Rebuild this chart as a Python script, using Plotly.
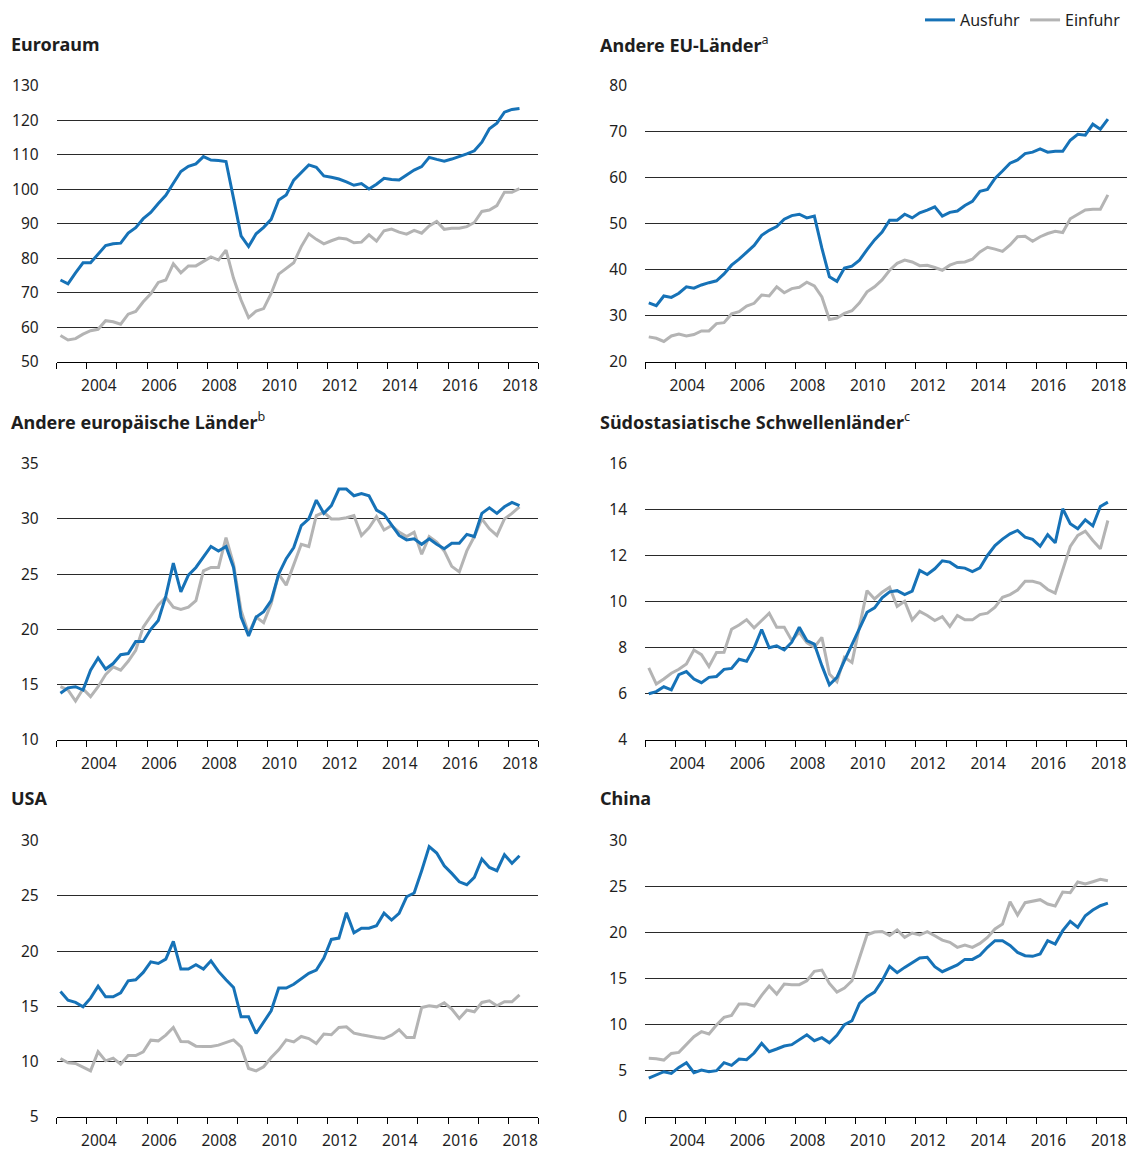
import plotly.graph_objects as go

# Quarterly data, 2003 Q1 - 2018 Q2
years = list(range(2003, 2019))
quarters = [(y, q) for y in years for q in (1, 2, 3, 4)][:62]
x_pos = [y + (q - 0.5) / 4 for y, q in quarters]

euro_aus = [73.7, 72.6, 75.8, 78.7, 78.7, 81.3, 83.7, 84.2, 84.4, 87.3,
            88.9, 91.5, 93.3, 95.9, 98.3, 101.8, 105.2, 106.7, 107.4, 109.5,
            108.5, 108.4, 108.1, 97.4, 86.5, 83.4, 87.1, 89.0, 91.3, 96.9,
            98.4, 102.7, 105.0, 107.1, 106.4, 103.9, 103.5, 103.0, 102.2, 101.2,
            101.7, 100.1, 101.5, 103.2, 102.9, 102.7, 104.2, 105.6, 106.6, 109.3,
            108.7, 108.2, 108.8, 109.5, 110.3, 111.2, 113.7, 117.6, 119.2, 122.4,
            123.2, 123.5]
euro_ein = [57.6, 56.3, 56.7, 58.0, 59.0, 59.4, 61.9, 61.6, 60.9, 63.8,
            64.6, 67.4, 69.7, 73.0, 73.7, 78.4, 75.8, 77.8, 77.8, 79.2,
            80.4, 79.5, 82.4, 74.2, 67.9, 62.8, 64.7, 65.4, 69.8, 75.4,
            77.1, 78.7, 83.4, 87.1, 85.5, 84.2, 85.1, 85.9, 85.6, 84.5,
            84.7, 86.8, 85.0, 88.0, 88.5, 87.6, 87.0, 88.1, 87.3, 89.4,
            90.7, 88.4, 88.7, 88.7, 89.2, 90.4, 93.6, 94.0, 95.3, 99.2,
            99.2, 100.2]

eu_aus = [32.8, 32.2, 34.3, 34.0, 34.9, 36.3, 36.0, 36.7, 37.2, 37.6,
          39.1, 41.0, 42.3, 43.7, 45.3, 47.5, 48.6, 49.4, 51.0, 51.8,
          52.1, 51.3, 51.7, 44.7, 38.5, 37.5, 40.4, 40.8, 42.1, 44.4,
          46.5, 48.2, 50.8, 50.8, 52.1, 51.3, 52.4, 53.0, 53.7, 51.7,
          52.5, 52.8, 54.0, 54.9, 57.1, 57.5, 59.9, 61.5, 63.2, 63.9,
          65.3, 65.6, 66.3, 65.6, 65.8, 65.8, 68.2, 69.5, 69.3, 71.7,
          70.6, 72.8]
eu_ein = [25.4, 25.1, 24.4, 25.6, 26.0, 25.6, 25.9, 26.7, 26.7, 28.3,
          28.5, 30.4, 30.9, 32.1, 32.7, 34.5, 34.3, 36.3, 35.0, 35.9,
          36.2, 37.3, 36.5, 34.1, 29.2, 29.5, 30.5, 31.1, 32.8, 35.2,
          36.3, 37.8, 39.9, 41.4, 42.1, 41.7, 40.9, 41.0, 40.5, 39.9,
          41.0, 41.6, 41.7, 42.3, 43.9, 44.9, 44.5, 44.0, 45.4, 47.2,
          47.3, 46.2, 47.2, 47.9, 48.4, 48.1, 51.1, 52.1, 53.0, 53.2,
          53.2, 56.3]

europa_aus = [14.2, 14.7, 14.8, 14.5, 16.3, 17.4, 16.4, 16.9, 17.7, 17.8,
              18.9, 18.9, 20.0, 20.8, 23.0, 26.0, 23.4, 24.9, 25.6, 26.5,
              27.5, 27.1, 27.5, 25.6, 21.1, 19.4, 21.1, 21.6, 22.6, 25.0,
              26.4, 27.4, 29.4, 30.0, 31.7, 30.5, 31.2, 32.7, 32.7, 32.1,
              32.3, 32.1, 30.8, 30.4, 29.4, 28.5, 28.1, 28.2, 27.7, 28.2,
              27.7, 27.3, 27.8, 27.8, 28.6, 28.4, 30.5, 31.0, 30.5, 31.1,
              31.5, 31.2]
europa_ein = [14.8, 14.5, 13.5, 14.6, 13.9, 14.8, 15.9, 16.6, 16.3, 17.1,
              18.1, 20.2, 21.2, 22.2, 22.9, 22.0, 21.8, 22.0, 22.6, 25.3,
              25.6, 25.6, 28.3, 25.9, 21.7, 19.6, 21.1, 20.6, 22.3, 25.0,
              24.0, 25.8, 27.7, 27.5, 30.3, 30.6, 30.0, 30.0, 30.1, 30.3,
              28.5, 29.2, 30.2, 29.0, 29.4, 28.8, 28.4, 28.8, 26.8, 28.4,
              27.9, 27.1, 25.7, 25.2, 27.1, 28.4, 30.0, 29.1, 28.5, 30.0,
              30.5, 31.1]

asien_aus = [6.0, 6.09, 6.3, 6.17, 6.83, 6.96, 6.64, 6.48, 6.71, 6.75,
             7.06, 7.1, 7.5, 7.41, 7.99, 8.79, 8.0, 8.08, 7.9, 8.24,
             8.89, 8.31, 8.16, 7.22, 6.39, 6.71, 7.44, 8.16, 8.89, 9.54,
             9.73, 10.17, 10.43, 10.48, 10.31, 10.46, 11.36, 11.18, 11.43, 11.78,
             11.72, 11.5, 11.46, 11.31, 11.47, 12.01, 12.44, 12.72, 12.95, 13.1,
             12.81, 12.71, 12.41, 12.91, 12.56, 14.04, 13.39, 13.17, 13.56, 13.3,
             14.14, 14.33]
asien_ein = [7.12, 6.42, 6.64, 6.89, 7.06, 7.29, 7.9, 7.7, 7.18, 7.79,
             7.8, 8.8, 8.99, 9.22, 8.86, 9.18, 9.5, 8.89, 8.89, 8.31,
             8.67, 8.22, 8.02, 8.45, 6.86, 6.52, 7.58, 7.36, 8.89, 10.48,
             10.12, 10.41, 10.63, 9.79, 10.02, 9.21, 9.58, 9.4, 9.18, 9.35,
             8.92, 9.4, 9.21, 9.21, 9.44, 9.5, 9.76, 10.19, 10.31, 10.51,
             10.89, 10.89, 10.8, 10.53, 10.37, 11.36, 12.4, 12.88, 13.07, 12.66,
             12.3, 13.53]

usa_aus = [16.34, 15.56, 15.35, 14.95, 15.74, 16.83, 15.86, 15.86, 16.22, 17.31,
           17.4, 18.07, 19.03, 18.88, 19.27, 20.88, 18.37, 18.37, 18.76, 18.37,
           19.12, 18.16, 17.4, 16.71, 14.05, 14.05, 12.54, 13.53, 14.59, 16.65,
           16.65, 17.0, 17.52, 17.98, 18.28, 19.37, 21.06, 21.18, 23.47, 21.66,
           22.08, 22.08, 22.3, 23.44, 22.81, 23.41, 24.92, 25.26, 27.28, 29.46,
           28.88, 27.73, 27.04, 26.28, 26.01, 26.68, 28.34, 27.58, 27.28, 28.73,
           27.95, 28.64]
usa_ein = [10.27, 9.88, 9.82, 9.46, 9.15, 10.88, 10.06, 10.3, 9.76, 10.54,
           10.54, 10.88, 11.93, 11.87, 12.39, 13.08, 11.81, 11.78, 11.39, 11.36,
           11.36, 11.48, 11.72, 11.96, 11.33, 9.37, 9.15, 9.52, 10.36, 11.06,
           11.96, 11.78, 12.27, 12.08, 11.63, 12.48, 12.42, 13.08, 13.14, 12.57,
           12.42, 12.27, 12.18, 12.08, 12.39, 12.87, 12.18, 12.18, 14.89, 15.05,
           14.95, 15.32, 14.74, 13.9, 14.65, 14.5, 15.35, 15.5, 15.05, 15.41,
           15.41, 16.04]

china_aus = [4.2, 4.57, 4.89, 4.71, 5.36, 5.87, 4.78, 5.07, 4.89, 5.0,
             5.87, 5.58, 6.27, 6.2, 6.92, 7.97, 7.07, 7.36, 7.68, 7.83,
             8.33, 8.91, 8.26, 8.59, 8.04, 8.84, 10.0, 10.43, 12.32, 13.04,
             13.55, 14.78, 16.34, 15.65, 16.23, 16.78, 17.25, 17.32, 16.3, 15.76,
             16.09, 16.49, 17.1, 17.1, 17.54, 18.41, 19.13, 19.13, 18.62, 17.86,
             17.5, 17.43, 17.68, 19.13, 18.77, 20.22, 21.23, 20.58, 21.85, 22.46,
             22.93, 23.22]
china_ein = [6.34, 6.3, 6.16, 6.88, 6.99, 7.9, 8.7, 9.24, 8.99, 9.96,
             10.8, 11.01, 12.25, 12.25, 12.03, 13.19, 14.2, 13.33, 14.42, 14.35,
             14.35, 14.78, 15.8, 15.94, 14.49, 13.55, 13.99, 14.78, 17.25, 19.78,
             20.07, 20.14, 19.71, 20.29, 19.49, 19.96, 19.75, 20.11, 19.67, 19.2,
             18.95, 18.41, 18.66, 18.41, 18.84, 19.49, 20.4, 20.94, 23.37, 21.92,
             23.26, 23.41, 23.59, 23.12, 22.9, 24.42, 24.35, 25.51, 25.29, 25.54,
             25.8, 25.65]

titles = ["Euroraum", "Andere EU-Länder", "Andere europäische Länder",
          "Südostasiatische Schwellenländer", "USA", "China"]
footnotes = ["", "a", "b", "c", "", ""]
y_ranges = [(50, 130, 10), (20, 80, 10), (10, 35, 5), (4, 16, 2), (5, 30, 5), (0, 30, 5)]
series = [(euro_aus, euro_ein), (eu_aus, eu_ein), (europa_aus, europa_ein),
          (asien_aus, asien_ein), (usa_aus, usa_ein), (china_aus, china_ein)]

label_years = list(range(2004, 2019, 2))

# layout in pixels
W, H = 1130, 1151
BLUE = "#1672B7"
GREY = "#B4B4B4"
FONT = "Noto Sans"
col_px = [(56.7, 538.3), (645.0, 1126.7)]
row_px = [(86.0, 361.7), (463.7, 739.7), (840.7, 1116.7)]
title_x = [9, 598]
title_y = [44, 421, 798]

fig = go.Figure()
layout = dict(
    width=W, height=H,
    margin=dict(l=0, r=0, t=0, b=0),
    paper_bgcolor="white", plot_bgcolor="white",
    font=dict(family=FONT, size=15.5, color="#1e1e1e"),
    showlegend=True,
    legend=dict(orientation="h", x=1126 / W, xanchor="right",
                y=1 - 20 / H, yanchor="middle",
                font=dict(size=16, color="#1e1e1e"),
                bgcolor="rgba(0,0,0,0)", borderwidth=0,
                itemclick=False, itemdoubleclick=False),
)

annotations = []
for k in range(6):
    r, c = divmod(k, 2)
    ax = "" if k == 0 else str(k + 1)
    aus, ein = series[k]
    fig.add_trace(go.Scatter(x=x_pos, y=ein, mode="lines", name="Einfuhr",
                             line=dict(color=GREY, width=3),
                             xaxis="x" + ax, yaxis="y" + ax,
                             showlegend=(k == 0), legendrank=2))
    fig.add_trace(go.Scatter(x=x_pos, y=aus, mode="lines", name="Ausfuhr",
                             line=dict(color=BLUE, width=3),
                             xaxis="x" + ax, yaxis="y" + ax,
                             showlegend=(k == 0), legendrank=1))
    x0, x1 = col_px[c]
    y0, y1 = row_px[r]
    lo, hi, step = y_ranges[k]
    layout["xaxis" + ax] = dict(
        domain=[x0 / W, x1 / W], anchor="y" + ax, range=[2003, 2019],
        tickmode="array", tickvals=[y + 0.4 for y in label_years],
        ticktext=[str(y) for y in label_years], ticks="",
        ticklabelstandoff=10,
        minor=dict(tickmode="array", tickvals=list(range(2003, 2020)),
                   ticks="outside", ticklen=6, tickwidth=1, tickcolor="#000",
                   showgrid=False),
        showgrid=False, zeroline=False, showline=True,
        linecolor="#000", linewidth=1, fixedrange=True, automargin=False,
        tickfont=dict(size=15.5))
    layout["yaxis" + ax] = dict(
        domain=[1 - y1 / H, 1 - y0 / H], anchor="x" + ax, range=[lo, hi],
        tickmode="linear", tick0=lo, dtick=step, ticks="",
        ticklabelstandoff=17, showgrid=True, gridcolor="#2a2a2a",
        gridwidth=1, zeroline=False, showline=False, fixedrange=True,
        automargin=False, tickfont=dict(size=15.5))
    text = "<b>" + titles[k] + "</b>"
    if footnotes[k]:
        text += "<sup>" + footnotes[k] + "</sup>"
    annotations.append(dict(
        text=text, xref="paper", yref="paper",
        x=title_x[c] / W, y=1 - title_y[r] / H, xanchor="left",
        yanchor="middle", showarrow=False,
        font=dict(family=FONT, size=18, color="#1e1e1e")))

layout["annotations"] = annotations
fig.update_layout(**layout)

fig.write_html("out.html", config={"displayModeBar": False},
               post_script="document.body.style.margin='0px';")
